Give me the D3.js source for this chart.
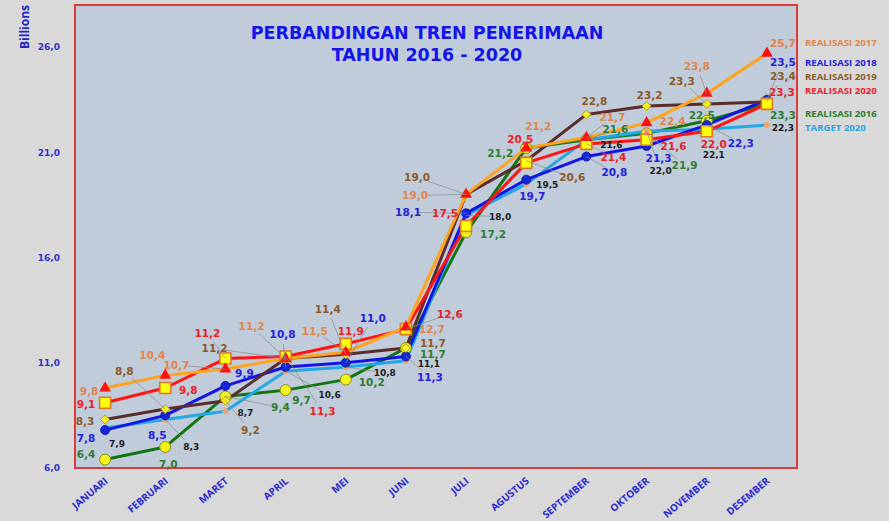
<!DOCTYPE html>
<html>
<head>
<meta charset="utf-8">
<script src="https://cdn.jsdelivr.net/npm/d3@7"></script>
<style>
  body { margin: 0; background: #d9d9d9; }
  svg { display: block; font-family: "DejaVu Sans", Verdana, sans-serif; font-weight: bold; }
</style>
</head>
<body>
<svg id="chart" width="889" height="521"></svg>
<script>
// --- DATA ---
const months = ["JANUARI", "FEBRUARI", "MARET", "APRIL", "MEI", "JUNI", "JULI",
  "AGUSTUS", "SEPTEMBER", "OKTOBER", "NOVEMBER", "DESEMBER"];
const yTicks = [6, 11, 16, 21, 26];

const real2016 = [6.4, 7.0, 9.4, 9.7, 10.2, 11.7, 17.2, 21.2, 21.6, 21.9, 22.5, 23.3];
const real2017 = [9.8, 10.4, 10.7, 11.2, 11.5, 12.7, 19.0, 21.2, 21.7, 22.4, 23.8, 25.7];
const real2018 = [7.8, 8.5, 9.9, 10.8, 11.0, 11.3, 18.1, 19.7, 20.8, 21.3, 22.3, 23.5];
const real2019 = [8.3, 8.8, 9.2, 11.2, 11.4, 11.7, 19.0, 20.6, 22.8, 23.2, 23.3, 23.4];
const real2020 = [9.1, 9.8, 11.2, 11.3, 11.9, 12.6, 17.5, 20.5, 21.4, 21.6, 22.0, 23.3];
const target2020 = [7.9, 8.3, 8.7, 10.6, 10.8, 11.1, 18.0, 19.5, 21.6, 22.0, 22.1, 22.3];

// label offsets (px from the point), dragged about like in the original sheet
const off2016 = [[-19,-5],[3,17],[55,11],[16,10],[26,3],[27,6],[27,2],[-26,5],[29,-10],[38,32],[-5,-5],[16,11]];
const off2017 = [[-16,3],[-13,-20],[-49,-4],[-34,-32],[-31,-21],[26,2],[-51,1],[12,-22],[26,-20],[26,-2],[-10,-27],[16,-10]];
const off2018 = [[-19,8],[-8,20],[19,-13],[-3,-33],[27,-44],[24,21],[-58,-1],[6,17],[28,16],[12,12],[34,18],[16,-37]];
const off2019 = [[-20,2],[-41,-38],[25,30],[-71,-10],[-18,-45],[27,-5],[-49,-17],[46,17],[8,-13],[3,-11],[-25,-23],[16,-25]];
const off2020 = [[-19,2],[23,2],[-18,-25],[37,55],[5,-13],[44,-15],[-21,-13],[-6,-24],[27,13],[27,7],[7,13],[15,-12]];
const offTarget = [[12,16],[26,27],[20,2],[44,24],[39,6],[23,3],[34,1],[21,1],[25,5],[14,40],[7,26],[16,3]];

const series = [
  { name: "REALISASI 2016", values: real2016, off: off2016, line: "#127512", label: "#2e7d32", marker: "gcircle", ly: 114 },
  { name: "TARGET 2020", values: target2020, off: offTarget, line: "#22a8e6", label: "#1c1c1c", marker: "dot", ly: 128 },
  { name: "REALISASI 2018", values: real2018, off: off2018, line: "#1414e6", label: "#2222dd", marker: "bcircle", ly: 63 },
  { name: "REALISASI 2019", values: real2019, off: off2019, line: "#5a2c2c", label: "#8b5a2b", marker: "diamond", ly: 77 },
  { name: "REALISASI 2020", values: real2020, off: off2020, line: "#ff1414", label: "#e8202a", marker: "square", ly: 91 },
  { name: "REALISASI 2017", values: real2017, off: off2017, line: "#ffa41c", label: "#e0864a", marker: "triangle", ly: 43 }
];

// --- LAYOUT ---
const plot = { left: 75, top: 5, right: 797, bottom: 468 };
const svg = d3.select("#chart");

const x = d3.scalePoint().domain(months).range([plot.left, plot.right]).padding(0.5);
const y = d3.scaleLinear().domain([6, 28]).range([plot.bottom, plot.top]);

svg.append("rect")
  .attr("x", plot.left).attr("y", plot.top)
  .attr("width", plot.right - plot.left).attr("height", plot.bottom - plot.top)
  .attr("fill", "#c1ccda").attr("stroke", "#e03a3a").attr("stroke-width", 2);

// y axis
const yAxis = svg.append("g")
  .attr("transform", `translate(${plot.left - 12},0)`)
  .call(d3.axisLeft(y).tickValues(yTicks).tickSize(0).tickFormat(d => d3.format(".1f")(d).replace(".", ",")));
yAxis.select(".domain").remove();
yAxis.selectAll("text")
  .attr("fill", "#3232c8").style("font-size", "9px").style("font-weight", "bold")
  .style("font-family", "DejaVu Sans, sans-serif");

svg.append("text")
  .attr("transform", "translate(29,27) rotate(-90)")
  .attr("text-anchor", "middle")
  .attr("fill", "#2323c8").style("font-size", "12px")
  .style("font-family", "Open Sans, sans-serif")
  .text("Billions");

// x axis
const xAxis = svg.append("g")
  .attr("transform", `translate(0,${plot.bottom + 10})`)
  .call(d3.axisBottom(x).tickSize(0).tickPadding(0));
xAxis.select(".domain").remove();
xAxis.selectAll("text")
  .attr("text-anchor", "end")
  .attr("dy", 0)
  .attr("transform", "translate(3,4) rotate(-40)")
  .attr("fill", "#2a2acf").style("font-size", "10px").style("font-weight", "bold")
  .style("font-family", "Open Sans, sans-serif");

// title
svg.append("text")
  .attr("x", 427).attr("y", 39).attr("text-anchor", "middle")
  .attr("fill", "#1414e6").style("font-size", "17.5px")
  .text("PERBANDINGAN TREN PENERIMAAN");
svg.append("text")
  .attr("x", 427).attr("y", 61).attr("text-anchor", "middle")
  .attr("fill", "#1414e6").style("font-size", "17.5px")
  .text("TAHUN 2016 - 2020");

// lines
const line = d3.line().x((d, i) => x(months[i])).y(d => y(d));
series.forEach(s => {
  svg.append("path")
    .datum(s.values)
    .attr("fill", "none")
    .attr("stroke", s.line)
    .attr("stroke-width", 3)
    .attr("stroke-linejoin", "round")
    .attr("d", line);
});

// markers
function drawMarker(g, type) {
  if (type === "gcircle") {
    g.append("circle").attr("r", 5.5).attr("fill", "#f2f21e").attr("stroke", "#8c8c12").attr("stroke-width", 1);
  } else if (type === "dot") {
    g.append("circle").attr("r", 3).attr("fill", "#f2a266");
  } else if (type === "bcircle") {
    g.append("circle").attr("r", 4.5).attr("fill", "#1428d8").attr("stroke", "#0a0aa0").attr("stroke-width", 0.8);
  } else if (type === "diamond") {
    g.append("path").attr("d", "M0,-4.5L4.5,0L0,4.5L-4.5,0Z").attr("fill", "#f5f02a").attr("stroke", "#b0a010").attr("stroke-width", 1);
  } else if (type === "square") {
    g.append("path").attr("d", d3.symbol(d3.symbolSquare, 121)()).attr("fill", "#ffff10").attr("stroke", "#e07820").attr("stroke-width", 1.6);
  } else if (type === "triangle") {
    g.append("path").attr("d", d3.symbol(d3.symbolTriangle, 60)()).attr("fill", "#ff1010");
  }
}
series.forEach(s => {
  s.values.forEach((v, i) => {
    const g = svg.append("g").attr("transform", `translate(${x(months[i])},${y(v)})`);
    drawMarker(g, s.marker);
  });
});

// leader lines + data labels
const fmt = v => d3.format(".1f")(v).replace(".", ",");
const labelLayer = svg.append("g");
series.forEach(s => {
  s.values.forEach((v, i) => {
    const px = x(months[i]), py = y(v);
    const [dx, dy] = s.off[i];
    const dist = Math.sqrt(dx * dx + dy * dy);
    if (dist > 28) {
      const k = (dist - 10) / dist;
      labelLayer.append("line")
        .attr("x1", px).attr("y1", py)
        .attr("x2", px + dx * k).attr("y2", py + dy * k)
        .attr("stroke", "#8a8a8a").attr("stroke-width", 0.7);
    }
    labelLayer.append("text")
      .attr("x", px + dx).attr("y", py + dy)
      .attr("text-anchor", "middle").attr("dy", "0.35em")
      .attr("fill", s.label)
      .style("font-size", s.marker === "dot" ? "9px" : "10.5px")
      .text(fmt(v));
  });
});

// legend (right of the plot)
series.forEach(s => {
  svg.append("text")
    .attr("x", 805).attr("y", s.ly).attr("dy", "0.35em")
    .attr("fill", s.marker === "dot" ? "#2aa6e0" : s.label)
    .style("font-size", "9.6px")
    .style("font-family", "Open Sans, sans-serif")
    .text(s.name);
});
</script>
</body>
</html>
